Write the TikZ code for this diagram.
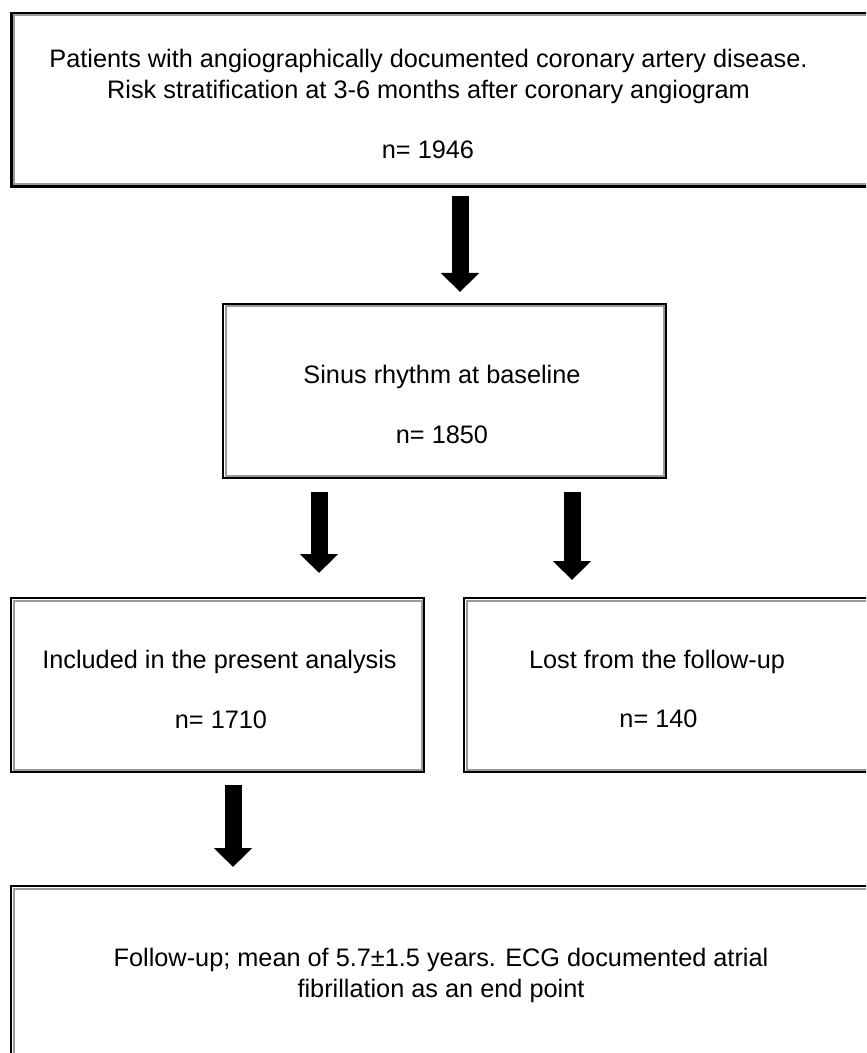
\documentclass[tikz,border=0pt]{standalone}
\usepackage{fontspec}
\setmainfont{Liberation Sans}
\usepackage{xcolor}
\usetikzlibrary{arrows.meta,positioning}
\definecolor{AfInner}{HTML}{9A9A9A}
\tikzset{
  afbox/.style={
    rectangle,
    draw=black,
    line width=1.4pt,
    inner sep=0pt,
    outer sep=0pt,
    anchor=north west,
    path picture={\draw[AfInner, line width=1pt]
      ([shift={(1.25pt,1.25pt)}]path picture bounding box.south west) rectangle
      ([shift={(-1.25pt,-1.25pt)}]path picture bounding box.north east);}
  },
  aftext/.style={
    align=center,
    inner sep=0pt,
    anchor=base,
    font=\fontsize{12.65pt}{15.5pt}\selectfont
  },
  afflow/.style={-{Triangle[length=9.5pt,width=18.5pt]}, line width=8.5pt}
}

\begin{document}
\begin{tikzpicture}[x=0.5pt, y=-0.5pt]
  \useasboundingbox (0,0) rectangle (866,1053);
  \clip (0,0) rectangle (866,1053);
  % boxes
  \node[afbox, minimum width=444.25pt, minimum height=86.75pt] (pop) at (11.5,13) {};
  \node[afbox, minimum width=221.5pt, minimum height=87pt] (base) at (223,304) {};
  \node[afbox, minimum width=206.5pt, minimum height=87pt] (inc) at (11,598) {};
  \node[afbox, minimum width=218pt, minimum height=87pt] (lost) at (464,598) {};
  \node[afbox, minimum width=444.5pt, minimum height=107pt] (fu) at (11,886) {};
  % texts (base = last line)
  \node[aftext] (popTxt) at (428.5,99) {Patients with angiographically documented coronary artery disease.\\Risk stratification at 3-6 months after coronary angiogram};
  \node[aftext] (popN) at (428,159) {n= 1946};
  \node[aftext] (baseTxt) at (442,383) {Sinus rhythm at baseline};
  \node[aftext] (baseN) at (442,443) {n= 1850};
  \node[aftext] (incTxt) at (219.5,668) {Included in the present analysis};
  \node[aftext] (incN) at (221,728) {n= 1710};
  \node[aftext] (lostTxt) at (657,668) {Lost from the follow-up};
  \node[aftext] (lostN) at (658.5,727) {n= 140};
  \node[aftext] (fuTxt) at (441,997) {Follow-up; mean of 5.7±1.5 years. ECG documented atrial\\fibrillation as an end point};
  % arrows
  \draw[afflow, shorten <=4.75pt, shorten >=6pt] ([xshift=2.125pt]pop.south) -- ([xshift=7.75pt]base.north);
  \draw[afflow, shorten <=7pt, shorten >=12.5pt] ([xshift=-62.75pt]base.south) -- ([xshift=50.75pt]inc.north);
  \draw[afflow, shorten <=7pt, shorten >=9pt] ([xshift=63.75pt]base.south) -- ([xshift=-55pt]lost.north);
  \draw[afflow, shorten <=6.5pt, shorten >=9.5pt] ([xshift=7.75pt]inc.south) -- ([xshift=-111.25pt]fu.north);
\end{tikzpicture}
\end{document}
